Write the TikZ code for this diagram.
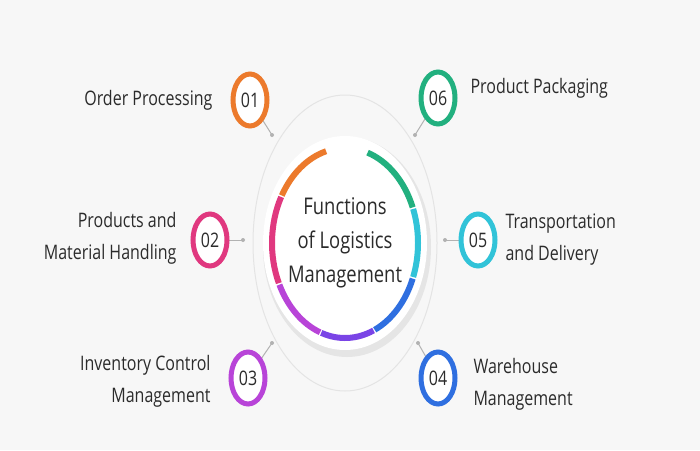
\documentclass[tikz,border=0pt]{standalone}
\usepackage{fontspec}
\setmainfont{Open Sans}
\definecolor{stepOrange}{HTML}{EC7A2C}
\definecolor{stepPink}{HTML}{E0387F}
\definecolor{stepPurple}{HTML}{B844D8}
\definecolor{stepViolet}{HTML}{7A44E6}
\definecolor{stepBlue}{HTML}{2F6FE0}
\definecolor{stepCyan}{HTML}{31C3D8}
\definecolor{stepGreen}{HTML}{22B07F}
\definecolor{ringGray}{HTML}{E4E4E4}
\definecolor{textGray}{HTML}{2B2B2B}
\usetikzlibrary{positioning,calc}
\newcommand{\sq}[1]{\scalebox{0.8}[1]{#1}}
\begin{document}
\begin{tikzpicture}[x=1pt,y=-1pt,
    numring/.style={line width=5pt,fill=white},
    numtext/.style={font=\fontsize{20}{20}\selectfont,text=textGray},
    label/.style={font=\fontsize{20}{32}\selectfont,text=textGray},
    link/.style={draw=gray!60,line width=1pt},
    dot/.style={fill=gray!60}
  ]
  \useasboundingbox[fill=gray!6] (0,0) rectangle (700,450);
  % center
  \coordinate (c) at (345,243);
  \draw[ringGray,line width=1pt] (c) ellipse[x radius=92,y radius=148];
  \fill[gray!20] ($(c)+(2,4)$) ellipse[x radius=84,y radius=110];
  \fill[white] (c) ellipse[x radius=82,y radius=107];
  % coloured arc
  \foreach \a/\b/\col in {105/150/stepOrange,151/205/stepPink,206/250/stepPurple,
      251/293/stepViolet,294/338/stepBlue,339/381/stepCyan,382/432/stepGreen}
    \draw[\col,line width=6pt] ($(c)+({73*cos(\a)},{-95*sin(\a)})$)
      arc[start angle=\a,end angle=\b,x radius=73,y radius=-95];
  \node[font=\fontsize{23}{34}\selectfont,text=textGray,align=center] (title) at (c)
    {\sq{Functions}\\\sq{of Logistics}\\\sq{Management}};
  % numbered circles
  \foreach \n/\x/\y/\col/\ex/\ey in {01/250/100/stepOrange/272/135,02/210/240/stepPink/243/240,
      03/248/378/stepPurple/272/343,04/438/378/stepBlue/418/343,
      05/478/240/stepCyan/445/240,06/438/98/stepGreen/415/135}{
    \coordinate (e\n) at (\ex,\ey);
    \draw[link] (\x,\y) -- (e\n);
    \fill[dot] (e\n) circle[radius=2];
    \draw[\col,numring] (\x,\y) ellipse[x radius=17,y radius=26];
    \node[numtext] (n\n) at (\x,\y) {\sq{\n}};
  }
  % labels
  \node[label,anchor=east,align=right] (l01) at (216,100) {\sq{Order Processing}};
  \node[label,anchor=east,align=right] (l02) at (180,238) {\sq{Products and}\\\sq{Material Handling}};
  \node[label,anchor=east,align=right] (l03) at (214,381) {\sq{Inventory Control}\\\sq{Management}};
  \node[label,anchor=west,align=left] (l06) at (467,88) {\sq{Product Packaging}};
  \node[label,anchor=west,align=left] (l05) at (502,240) {\sq{Transportation}\\\sq{and Delivery}};
  \node[label,anchor=west,align=left] (l04) at (470,384) {\sq{Warehouse}\\\sq{Management}};
\end{tikzpicture}
\end{document}
